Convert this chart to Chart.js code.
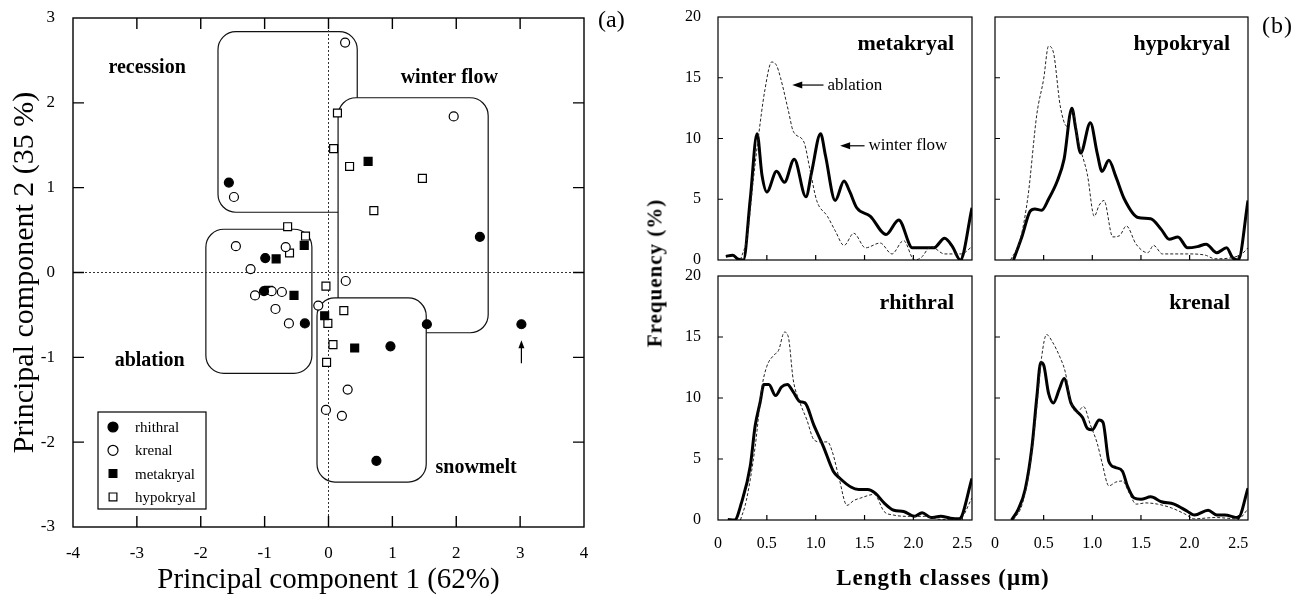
<!DOCTYPE html>
<html>
<head>
<meta charset="utf-8">
<script src="https://cdn.jsdelivr.net/npm/chart.js@4.4.1/dist/chart.umd.min.js"></script>
<style>
  body { margin:0; width:1314px; height:598px; position:relative; background:#fff; overflow:hidden;
         font-family:'Liberation Serif','Times New Roman',serif; color:#000; }
  canvas { position:absolute; }
  .lbl { position:absolute; white-space:nowrap; }
</style>
</head>
<body>
<canvas id="pca" width="640" height="598" style="left:0;top:0"></canvas>
<canvas id="c0" width="325" height="268" style="left:660px;top:0"></canvas>
<canvas id="c1" width="329" height="268" style="left:985px;top:0"></canvas>
<canvas id="c2" width="325" height="300" style="left:660px;top:268px"></canvas>
<canvas id="c3" width="329" height="300" style="left:985px;top:268px"></canvas>
<div class="lbl" style="left:598px;top:6px;font-size:24px">(a)</div>
<div class="lbl" style="left:1262px;top:12px;font-size:24px;letter-spacing:1px">(b)</div>
<div class="lbl" style="left:655px;top:273px;transform:translate(-50%,-50%) rotate(-90deg);font-size:21px;font-weight:bold;letter-spacing:1px">Frequency (%)</div>
<div class="lbl" style="left:943px;top:578px;transform:translate(-50%,-50%);font-size:23px;font-weight:bold;letter-spacing:1px">Length classes (μm)</div>
<script>
// ---- (a) PCA scores ----
const rhithralPts = [[-1.56,1.06],[-0.99,0.17],[-1.01,-0.22],[-0.37,-0.60],[0.97,-0.87],[0.75,-2.22],[1.54,-0.61],[3.02,-0.61],[2.37,0.42]];
const krenalPts = [[-1.48,0.89],[-1.45,0.31],[-0.67,0.30],[-1.22,0.04],[-1.15,-0.27],[-0.89,-0.22],[-0.73,-0.23],[-0.83,-0.43],
  [-0.62,-0.60],[-0.16,-0.39],[0.27,-0.10],[0.30,-1.38],[-0.04,-1.62],[0.21,-1.69],[0.26,2.71],[1.96,1.84]];
const metakryalPts = [[-0.38,0.32],[-0.82,0.16],[-0.94,-0.21],[-0.54,-0.27],[-0.06,-0.51],[0.41,-0.89],[0.62,1.31]];
const hypokryalPts = [[-0.64,0.54],[-0.36,0.43],[-0.61,0.23],[-0.04,-0.16],[-0.01,-0.60],[0.24,-0.45],[0.07,-0.85],
  [-0.03,-1.06],[0.14,1.88],[0.08,1.46],[0.33,1.25],[1.47,1.11],[0.71,0.73]];

// hydrological period groupings: [xmin, xmax, ymin, ymax] and label anchor
const regionNames = ['recession','winter flow','snowmelt','ablation'];
const regionBounds = [[-1.73,0.45,0.71,2.84],[0.15,2.50,-0.71,2.06],[-0.18,1.53,-2.47,-0.30],[-1.92,-0.26,-1.19,0.51]];
const regionLabelAt = [[-2.84,2.41],[1.89,2.29],[2.31,-2.30],[-2.80,-1.04]];

// ---- (b) length class frequencies ----
const metakryalWinter = [[0.08,0.3],[0.15,0.4],[0.2,0.1],[0.26,0],[0.33,5.0],[0.4,10.4],[0.45,7.0],[0.5,5.6],[0.6,7.3],[0.68,6.4],
  [0.78,8.3],[0.9,5.2],[0.96,7.3],[1.05,10.4],[1.1,8.6],[1.2,4.9],[1.29,6.5],[1.35,5.6],[1.42,4.3],[1.56,3.6],[1.72,2.1],
  [1.85,3.3],[1.99,1.0],[2.09,1.0],[2.21,1.0],[2.32,1.8],[2.4,1.1],[2.48,0],[2.6,4.3]];
const metakryalAblation = [[0.23,0],[0.3,2.0],[0.36,6.5],[0.41,9.9],[0.48,14.0],[0.55,16.3],[0.6,16.0],[0.64,15.0],[0.72,12.3],
  [0.77,10.6],[0.88,9.7],[0.94,7.5],[1.01,4.9],[1.12,3.6],[1.2,2.4],[1.29,1.2],[1.39,2.2],[1.51,1.0],[1.66,1.4],[1.78,0.5],
  [1.9,1.6],[2.01,0],[2.08,0.2],[2.18,1.1],[2.32,0.5],[2.49,0.5],[2.6,1.1]];
const hypokryalWinter = [[0.19,0],[0.28,2.0],[0.36,4.0],[0.41,4.2],[0.48,4.1],[0.55,5.0],[0.64,6.5],[0.71,8.3],[0.79,12.5],
  [0.83,10.8],[0.88,8.8],[0.98,11.3],[1.05,8.8],[1.1,7.3],[1.17,8.2],[1.24,6.9],[1.33,5.0],[1.47,3.5],[1.6,3.4],[1.71,2.5],
  [1.79,1.7],[1.88,1.9],[1.98,1.0],[2.08,1.1],[2.17,1.3],[2.28,0.6],[2.38,1.0],[2.44,0.2],[2.5,0],[2.6,4.9]];
const hypokryalAblation = [[0.16,0],[0.26,1.7],[0.34,5.3],[0.43,12.0],[0.5,14.9],[0.55,17.6],[0.6,17.1],[0.67,12.7],[0.74,11.0],
  [0.8,12.3],[0.85,10.0],[0.95,7.0],[1.02,3.6],[1.07,4.5],[1.12,4.9],[1.21,1.9],[1.28,2.0],[1.35,2.8],[1.45,1.3],[1.57,0.6],
  [1.63,1.2],[1.72,0.5],[1.98,0.5],[2.16,0.4],[2.26,0.1],[2.52,0.4],[2.6,1.0]];
const rhithralWinter = [[0.1,0.05],[0.17,0],[0.24,1.4],[0.33,4.4],[0.38,7.7],[0.43,9.6],[0.47,11.1],[0.52,11.1],[0.59,10.2],
  [0.65,10.9],[0.71,11.1],[0.77,10.5],[0.84,9.7],[0.89,9.6],[0.98,7.8],[1.08,6.0],[1.18,4.0],[1.25,3.4],[1.36,2.7],[1.44,2.5],
  [1.53,2.5],[1.61,2.2],[1.7,1.4],[1.8,0.8],[1.9,0.7],[2.01,0.3],[2.09,0.6],[2.18,0.2],[2.28,0.3],[2.38,0.15],[2.47,0.1],[2.6,3.4]];
const rhithralAblation = [[0.23,0],[0.29,1.6],[0.38,6.0],[0.45,10.9],[0.5,12.6],[0.57,13.5],[0.62,13.9],[0.68,15.4],[0.72,15.0],
  [0.77,11.5],[0.84,9.6],[0.91,8.2],[0.98,6.6],[1.05,6.4],[1.12,6.4],[1.17,5.6],[1.24,3.4],[1.32,1.2],[1.39,1.6],[1.46,1.8],
  [1.6,2.1],[1.7,0.7],[1.8,0.4],[1.94,0.3],[2.11,0.3],[2.28,0.05],[2.47,0.05],[2.6,1.8]];
const krenalWinter = [[0.17,0],[0.24,0.9],[0.31,2.5],[0.38,6.0],[0.43,10.1],[0.47,12.9],[0.5,12.7],[0.55,10.4],[0.6,9.6],
  [0.66,10.7],[0.71,11.6],[0.78,9.6],[0.83,9.0],[0.9,8.4],[0.95,7.5],[1.0,7.4],[1.07,8.2],[1.11,8.0],[1.17,4.8],[1.24,4.3],
  [1.31,4.0],[1.36,2.8],[1.43,1.8],[1.5,1.7],[1.6,1.9],[1.71,1.5],[1.84,1.3],[1.98,0.7],[2.05,0.4],[2.19,0.8],[2.28,0.4],
  [2.36,0.4],[2.5,0.2],[2.6,2.6]];
const krenalAblation = [[0.19,0],[0.28,1.3],[0.36,4.4],[0.43,9.3],[0.48,13.4],[0.53,15.2],[0.59,14.6],[0.67,13.3],[0.72,12.2],
  [0.78,9.7],[0.84,8.8],[0.91,9.3],[0.98,7.8],[1.05,6.3],[1.1,4.7],[1.17,2.8],[1.24,3.1],[1.31,3.2],[1.38,2.2],[1.45,1.3],
  [1.55,1.4],[1.67,1.3],[1.81,1.0],[1.95,0.5],[2.05,0.1],[2.26,0.2],[2.5,0.1],[2.6,0.9]];
const lengthTicks = [0, 0.5, 1, 1.5, 2, 2.5];
const freqTicks = [0, 5, 10, 15, 20];

Chart.defaults.font.family = "'Liberation Serif','Times New Roman',serif";
Chart.defaults.color = '#000';
Chart.defaults.animation = false;

const toXY = arr => arr.map(p => ({x: p[0], y: p[1]}));

function roundPath(ctx, x, y, w, h, r) {
  ctx.beginPath();
  ctx.moveTo(x + r, y);
  ctx.arcTo(x + w, y, x + w, y + h, r);
  ctx.arcTo(x + w, y + h, x, y + h, r);
  ctx.arcTo(x, y + h, x, y, r);
  ctx.arcTo(x, y, x + w, y, r);
  ctx.closePath();
}

// box round the plot and short ticks pointing inwards
const innerTicks = {
  id: 'innerTicks',
  afterDatasetsDraw(chart, args, o) {
    const {ctx, chartArea: a, scales: {x, y}} = chart;
    ctx.save();
    ctx.strokeStyle = '#000';
    ctx.lineWidth = o.width;
    ctx.strokeRect(a.left, a.top, a.right - a.left, a.bottom - a.top);
    ctx.beginPath();
    x.ticks.forEach(t => {
      const px = x.getPixelForValue(t.value);
      if (px < a.left + 2 || px > a.right - 2) return;
      ctx.moveTo(px, a.bottom); ctx.lineTo(px, a.bottom - o.len);
      if (o.all) { ctx.moveTo(px, a.top); ctx.lineTo(px, a.top + o.len); }
    });
    y.ticks.forEach(t => {
      const py = y.getPixelForValue(t.value);
      if (py < a.top + 2 || py > a.bottom - 2) return;
      ctx.moveTo(a.left, py); ctx.lineTo(a.left + o.len, py);
      if (o.all) { ctx.moveTo(a.right, py); ctx.lineTo(a.right - o.len, py); }
    });
    ctx.stroke();
    ctx.restore();
  }
};

// period boxes, zero lines, labels, arrow, legend for the PCA plot
const pcaDecor = {
  id: 'pcaDecor',
  beforeDatasetsDraw(chart) {
    const {ctx, chartArea: a, scales: {x, y}} = chart;
    ctx.save();
    ctx.strokeStyle = '#111';
    ctx.lineWidth = 1.2;
    regionBounds.forEach(b => {
      const l = x.getPixelForValue(b[0]), r = x.getPixelForValue(b[1]);
      const t = y.getPixelForValue(b[3]), btm = y.getPixelForValue(b[2]);
      roundPath(ctx, l, t, r - l, btm - t, 18);
      ctx.fillStyle = '#fff';
      ctx.fill();
      ctx.stroke();
    });
    ctx.setLineDash([2, 2]);
    ctx.lineWidth = 1;
    ctx.strokeStyle = '#333';
    ctx.beginPath();
    ctx.moveTo(x.getPixelForValue(0), a.top); ctx.lineTo(x.getPixelForValue(0), a.bottom);
    ctx.moveTo(a.left, y.getPixelForValue(0)); ctx.lineTo(a.right, y.getPixelForValue(0));
    ctx.stroke();
    ctx.setLineDash([]);
    ctx.fillStyle = '#000';
    ctx.font = "bold 20px 'Liberation Serif', serif";
    ctx.textAlign = 'center';
    ctx.textBaseline = 'middle';
    regionNames.forEach((n, i) => {
      ctx.fillText(n, x.getPixelForValue(regionLabelAt[i][0]), y.getPixelForValue(regionLabelAt[i][1]));
    });
    // arrow under the outlying rhithral site
    const ax = x.getPixelForValue(3.02), ay0 = y.getPixelForValue(-1.07), ay1 = y.getPixelForValue(-0.80);
    ctx.lineWidth = 1.2;
    ctx.strokeStyle = '#000';
    ctx.beginPath(); ctx.moveTo(ax, ay0); ctx.lineTo(ax, ay1 + 6); ctx.stroke();
    ctx.beginPath(); ctx.moveTo(ax, ay1); ctx.lineTo(ax - 3, ay1 + 8); ctx.lineTo(ax + 3, ay1 + 8); ctx.closePath(); ctx.fill();
    ctx.restore();
  },
  afterDraw(chart) {
    const {ctx, chartArea: a} = chart;
    const bx = a.left + 25, by = a.bottom - 115, bw = 108, bh = 97;
    ctx.save();
    ctx.fillStyle = '#fff';
    ctx.fillRect(bx, by, bw, bh);
    ctx.strokeStyle = '#000';
    ctx.lineWidth = 1.2;
    ctx.strokeRect(bx, by, bw, bh);
    ctx.font = "15px 'Liberation Serif', serif";
    ctx.textBaseline = 'middle';
    chart.data.datasets.forEach((ds, i) => {
      const cy = by + 15 + i * 23.3;
      ctx.fillStyle = ds.backgroundColor;
      ctx.strokeStyle = ds.borderColor;
      ctx.lineWidth = 1.2;
      Chart.helpers.drawPoint(ctx, {pointStyle: ds.pointStyle, radius: ds.pointStyle === 'rect' ? 5.5 : 5, borderWidth: 1.2}, bx + 15, cy);
      ctx.fillStyle = '#000';
      ctx.fillText(ds.label, bx + 37, cy + 1);
    });
    ctx.restore();
  }
};

const pcaSets = [
  {label: 'rhithral', pts: rhithralPts, style: 'circle', fill: '#000'},
  {label: 'krenal', pts: krenalPts, style: 'circle', fill: '#fff'},
  {label: 'metakryal', pts: metakryalPts, style: 'rect', fill: '#000'},
  {label: 'hypokryal', pts: hypokryalPts, style: 'rect', fill: '#fff'}
];

new Chart(document.getElementById('pca'), {
  type: 'scatter',
  data: {
    datasets: pcaSets.map(s => ({
      label: s.label, data: toXY(s.pts), pointStyle: s.style,
      pointRadius: s.style === 'rect' ? 5.6 : 4.5, borderWidth: 1.2,
      backgroundColor: s.fill, borderColor: '#000'
    }))
  },
  options: {
    responsive: false,
    layout: {padding: {left: 0, top: 18, right: 56, bottom: 0}},
    plugins: {legend: {display: false}, tooltip: {enabled: false}, innerTicks: {len: 11, width: 1.4, all: true}},
    scales: {
      x: {
        type: 'linear', min: -4, max: 4,
        ticks: {stepSize: 1, padding: 8, font: {size: 17}},
        grid: {display: false}, border: {display: false},
        title: {display: true, text: 'Principal component 1 (62%)', font: {size: 29}, padding: {top: 0, bottom: 0}},
        afterFit: s => { s.height = 71; s.paddingLeft = 0; s.paddingRight = 0; }
      },
      y: {
        type: 'linear', min: -3, max: 3,
        ticks: {stepSize: 1, padding: 10, font: {size: 17}},
        grid: {display: false}, border: {display: false},
        title: {display: true, text: 'Principal component 2 (35 %)', font: {size: 30}, padding: {top: 7, bottom: 0}},
        afterFit: s => { s.width = 73; s.paddingTop = 0; s.paddingBottom = 0; }
      }
    }
  },
  plugins: [pcaDecor, innerTicks]
});

// panel name and the two pointer notes
const panelText = {
  id: 'panelText',
  afterDraw(chart, args, o) {
    const {ctx, chartArea: a, scales: {x, y}} = chart;
    ctx.save();
    ctx.fillStyle = '#000';
    ctx.font = "bold 22px 'Liberation Serif', serif";
    ctx.textAlign = 'right';
    ctx.textBaseline = 'middle';
    ctx.fillText(o.name, a.right - 18, a.top + 27);
    ctx.font = "17px 'Liberation Serif', serif";
    ctx.textAlign = 'left';
    ctx.strokeStyle = '#000';
    ctx.lineWidth = 1.2;
    (o.notes || []).forEach(n => {
      const tx = x.getPixelForValue(n.tip[0]), ty = y.getPixelForValue(n.tip[1]);
      const ex = x.getPixelForValue(n.tail);
      ctx.beginPath(); ctx.moveTo(tx + 6, ty); ctx.lineTo(ex, ty); ctx.stroke();
      ctx.beginPath(); ctx.moveTo(tx, ty); ctx.lineTo(tx + 10, ty - 3.5); ctx.lineTo(tx + 10, ty + 3.5); ctx.closePath(); ctx.fill();
      ctx.fillText(n.text, ex + 4, ty);
    });
    ctx.restore();
  }
};

const metakryalNotes = [
  {text: 'ablation', tip: [0.76, 14.4], tail: 1.08},
  {text: 'winter flow', tip: [1.25, 9.4], tail: 1.5}
];

function panel(id, name, winter, ablation, g, notes) {
  new Chart(document.getElementById(id), {
    type: 'line',
    data: {
      datasets: [
        {label: 'ablation', data: toXY(ablation), borderColor: '#222', borderWidth: 1, borderDash: [3, 2],
         pointRadius: 0, cubicInterpolationMode: 'monotone', fill: false},
        {label: 'winter flow', data: toXY(winter), borderColor: '#000', borderWidth: 3,
         pointRadius: 0, cubicInterpolationMode: 'monotone', fill: false}
      ]
    },
    options: {
      responsive: false,
      layout: {padding: {left: 0, top: g.pt, right: g.pr, bottom: 0}},
      plugins: {legend: {display: false}, tooltip: {enabled: false},
                innerTicks: {len: 5, width: 1.2, all: false}, panelText: {name: name, notes: notes}},
      scales: {
        x: {
          type: 'linear', min: 0, max: 2.6,
          afterBuildTicks: s => { s.ticks = lengthTicks.map(v => ({value: v})); },
          ticks: {display: g.showX, padding: 6, font: {size: 16}, callback: v => v === 0 ? '0' : v.toFixed(1)},
          grid: {display: false}, border: {display: false},
          afterFit: s => { s.height = g.xh; s.paddingLeft = 0; s.paddingRight = 0; }
        },
        y: {
          type: 'linear', min: 0, max: 20,
          afterBuildTicks: s => { s.ticks = freqTicks.map(v => ({value: v})); },
          ticks: {display: g.showY, padding: 9, font: {size: 16}},
          grid: {display: false}, border: {display: false},
          afterFit: s => { s.width = g.yw; s.paddingTop = 0; s.paddingBottom = 0; }
        }
      }
    },
    plugins: [innerTicks, panelText]
  });
}

panel('c0', 'metakryal', metakryalWinter, metakryalAblation, {pt: 17, pr: 13, xh: 8, yw: 58, showX: false, showY: true}, metakryalNotes);
panel('c1', 'hypokryal', hypokryalWinter, hypokryalAblation, {pt: 17, pr: 66, xh: 8, yw: 10, showX: false, showY: false});
panel('c2', 'rhithral', rhithralWinter, rhithralAblation, {pt: 8, pr: 13, xh: 48, yw: 58, showX: true, showY: true});
panel('c3', 'krenal', krenalWinter, krenalAblation, {pt: 8, pr: 66, xh: 48, yw: 10, showX: true, showY: false});
</script>
</body>
</html>
